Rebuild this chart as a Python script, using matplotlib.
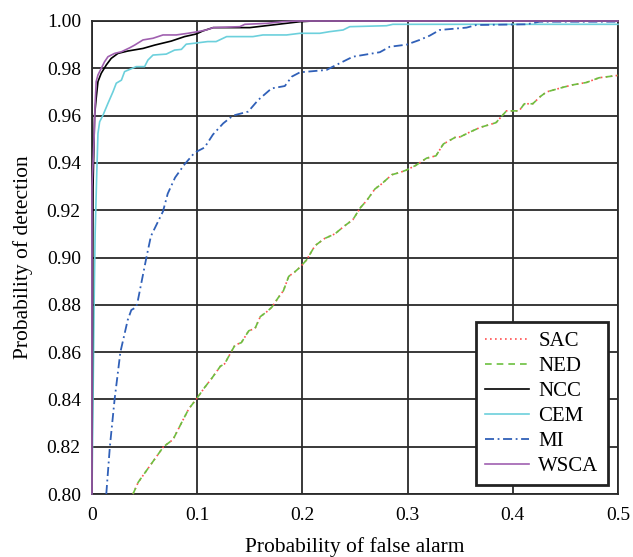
import matplotlib.pyplot as plt

plt.rcParams['font.family'] = ['Liberation Serif', 'DejaVu Serif']

# ---------------- data ----------------
sac_x = [0.039, 0.044, 0.052, 0.060, 0.068, 0.077, 0.085, 0.092, 0.099, 0.107, 0.114, 0.122,
         0.126, 0.131, 0.136, 0.142, 0.149, 0.155, 0.160, 0.166, 0.171, 0.177, 0.182, 0.187,
         0.193, 0.198, 0.204, 0.212, 0.221, 0.231, 0.239, 0.248, 0.255, 0.261, 0.269, 0.275,
         0.285, 0.293, 0.299, 0.308, 0.318, 0.327, 0.334, 0.346, 0.350, 0.359, 0.369, 0.384,
         0.394, 0.406, 0.411, 0.419, 0.426, 0.432, 0.448, 0.457, 0.470, 0.482, 0.500]
sac_y = [0.800, 0.805, 0.810, 0.815, 0.820, 0.823, 0.830, 0.836, 0.840, 0.845, 0.849, 0.854,
         0.855, 0.859, 0.863, 0.864, 0.869, 0.870, 0.875, 0.877, 0.879, 0.883, 0.886, 0.892,
         0.894, 0.896, 0.899, 0.905, 0.908, 0.910, 0.913, 0.916, 0.921, 0.924, 0.929, 0.931,
         0.935, 0.936, 0.937, 0.939, 0.942, 0.943, 0.948, 0.951, 0.951, 0.953, 0.955, 0.957,
         0.962, 0.962, 0.965, 0.965, 0.968, 0.970, 0.972, 0.973, 0.974, 0.976, 0.977]

# NED lies exactly on top of SAC in the picture
ned_x = list(sac_x)
ned_y = list(sac_y)

ncc_x = [0.0, 0.001, 0.0025, 0.004, 0.0057, 0.0088, 0.0136, 0.0183, 0.0247, 0.034, 0.0485,
         0.0595, 0.0753, 0.088, 0.099, 0.1054, 0.1152, 0.150, 0.1977, 0.21, 0.5]
ncc_y = [0.80, 0.93, 0.9602, 0.9673, 0.9744, 0.9779, 0.9814, 0.9842, 0.9863, 0.9873, 0.9884,
         0.9898, 0.9915, 0.9934, 0.9945, 0.9958, 0.9972, 0.9972, 0.9997, 1.0, 1.0]

cem_x = [0.0, 0.002, 0.003, 0.0045, 0.0057, 0.0073, 0.0105, 0.0152, 0.020, 0.0231, 0.028,
         0.031, 0.042, 0.050, 0.0532, 0.058, 0.0706, 0.0785, 0.085, 0.0896, 0.0975, 0.110,
         0.118, 0.128, 0.153, 0.1625, 0.185, 0.1977, 0.2166, 0.226, 0.2387, 0.245, 0.280,
         0.286, 0.5]
cem_y = [0.80, 0.88, 0.91, 0.935, 0.9525, 0.9574, 0.9602, 0.9652, 0.9701, 0.9737, 0.975,
         0.9786, 0.9807, 0.9807, 0.9835, 0.9856, 0.986, 0.9877, 0.988, 0.9902, 0.9906, 0.9913,
         0.9913, 0.9934, 0.9934, 0.9941, 0.9941, 0.9948, 0.9948, 0.9955, 0.9962, 0.9976, 0.998,
         0.9986, 0.9986]

mi_x = [0.0136, 0.017, 0.0215, 0.027, 0.034, 0.0374, 0.042, 0.0437, 0.0516, 0.056, 0.0675,
        0.072, 0.079, 0.088, 0.0975, 0.107, 0.115, 0.1247, 0.134, 0.1485, 0.158, 0.1707,
        0.1833, 0.19, 0.1977, 0.223, 0.229, 0.248, 0.2736, 0.283, 0.299, 0.3115, 0.321,
        0.3305, 0.356, 0.3653, 0.413, 0.4255, 0.5]
mi_y = [0.80, 0.82, 0.84, 0.86, 0.8736, 0.8778, 0.879, 0.882, 0.8997, 0.909, 0.9195,
        0.927, 0.9338, 0.9394, 0.9443, 0.9465, 0.952, 0.9567, 0.960, 0.9617, 0.9666, 0.9715,
        0.9725, 0.9765, 0.9783, 0.9793, 0.9807, 0.9849, 0.9868, 0.9891, 0.990, 0.992, 0.9938,
        0.9962, 0.9972, 0.9983, 0.9986, 0.9997, 0.9997]

wsca_x = [0.0, 0.0, 0.002, 0.003, 0.004, 0.0057, 0.012, 0.0152, 0.0215, 0.028, 0.036, 0.0405,
          0.0485, 0.058, 0.0675, 0.080, 0.0912, 0.1007, 0.1086, 0.1152, 0.1405, 0.1453, 0.166,
          0.1814, 0.194, 0.5]
wsca_y = [0.80, 0.93, 0.95, 0.965, 0.9744, 0.9772, 0.9828, 0.9849, 0.9863, 0.987, 0.9887,
          0.9898, 0.992, 0.9927, 0.9941, 0.9941, 0.9948, 0.9955, 0.9962, 0.9972, 0.9976,
          0.9986, 0.999, 0.9997, 1.0, 1.0]

x_ticks = [0, 0.1, 0.2, 0.3, 0.4, 0.5]
x_tick_labels = ["0", "0.1", "0.2", "0.3", "0.4", "0.5"]
y_ticks = [0.80, 0.82, 0.84, 0.86, 0.88, 0.90, 0.92, 0.94, 0.96, 0.98, 1.00]

# ---------------- figure ----------------
fig = plt.figure(figsize=(6.33, 5.57), dpi=100)
ax = fig.add_axes([0.1453, 0.1131, 0.8310, 0.8492])

ax.plot(sac_x, sac_y, color="#ff5050", ls=(0, (1, 2)), lw=1.2, label="SAC", zorder=3, clip_on=False)
ax.plot(ned_x, ned_y, color="#6cc040", ls=(0, (4, 3)), lw=1.2, label="NED", zorder=3.1, clip_on=False)
ax.plot(ncc_x, ncc_y, color="black", lw=1.2, label="NCC", zorder=3.2, clip_on=False)
ax.plot(cem_x, cem_y, color="#6cd0dc", lw=1.2, label="CEM", zorder=3, clip_on=False)
ax.plot(mi_x, mi_y, color="#3060b8", ls=(0, (5, 2, 1, 2)), lw=1.3, label="MI", zorder=3, clip_on=False)
ax.plot(wsca_x, wsca_y, color="#a060b0", lw=1.2, label="WSCA", zorder=3.3, clip_on=False)

ax.set_xlim(0, 0.5)
ax.set_ylim(0.80, 1.00)
ax.set_xticks(x_ticks)
ax.set_xticklabels(x_tick_labels)
ax.set_yticks(y_ticks)
ax.set_yticklabels(["%.2f" % v for v in y_ticks])
ax.tick_params(length=0, labelsize=14)
ax.tick_params(axis="x", pad=9)
ax.tick_params(axis="y", pad=8)

ax.grid(True, color="#2a2a2a", lw=1.3)
ax.set_axisbelow(True)
for s in ax.spines.values():
    s.set_color("#2a2a2a")
    s.set_linewidth(1.3)

ax.set_xlabel("Probability of false alarm", fontsize=15.5, labelpad=10)
ax.set_ylabel("Probability of detection", fontsize=15.5, labelpad=10)

leg = ax.legend(loc="lower right", bbox_to_anchor=(0.981, 0.018), fontsize=15, fancybox=False,
                framealpha=1, edgecolor="#222222", handlelength=2.1, labelspacing=0.26,
                borderpad=0.45, handletextpad=0.45, borderaxespad=0)
leg.get_frame().set_linewidth(2)

fig.savefig("out.png", dpi=100)
